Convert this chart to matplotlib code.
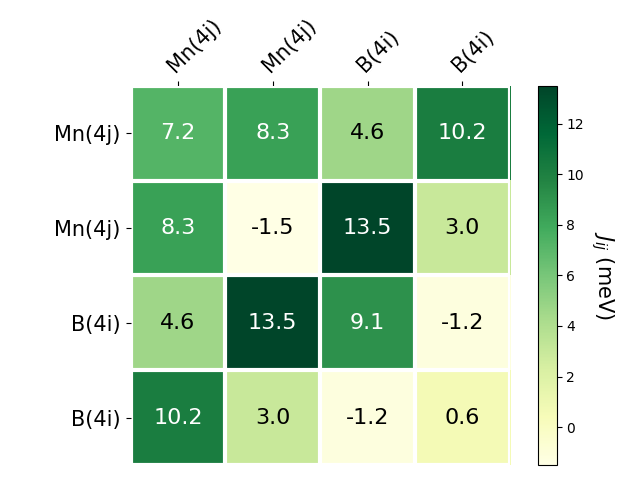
import numpy as np
import matplotlib.pyplot as plt

row_labels = ["Mn(4j)", "Mn(4j)", "B(4i)", "B(4i)"]
col_labels = ["Mn(4j)", "Mn(4j)", "B(4i)", "B(4i)"]
J = np.array([[7.2, 8.3, 4.6, 10.2],
              [8.3, -1.5, 13.5, 3.0],
              [4.6, 13.5, 9.1, -1.2],
              [10.2, 3.0, -1.2, 0.6]])

fig, ax = plt.subplots(figsize=(6.4, 4.8))
im = ax.imshow(J, cmap="YlGn")

cbar = fig.colorbar(im, ax=ax)
cbar.ax.set_ylabel("$J_{ij}$ (meV)", rotation=-90, va="bottom", fontsize=15)

ax.set_xticks(np.arange(J.shape[1]), labels=col_labels, fontsize=15)
ax.set_yticks(np.arange(J.shape[0]), labels=row_labels, fontsize=15)
ax.tick_params(top=True, bottom=False, labeltop=True, labelbottom=False)
plt.setp(ax.get_xticklabels(), rotation=45, ha="left", rotation_mode="anchor")

for s in ax.spines.values():
    s.set_visible(False)
ax.set_xticks(np.arange(J.shape[1] + 1) - .5, minor=True)
ax.set_yticks(np.arange(J.shape[0] + 1) - .5, minor=True)
ax.grid(which="minor", color="w", linestyle="-", linewidth=3)
ax.tick_params(which="minor", bottom=False, left=False, top=False)

threshold = im.norm(J.max()) / 2.
for i in range(J.shape[0]):
    for j in range(J.shape[1]):
        c = "white" if im.norm(J[i, j]) > threshold else "black"
        ax.text(j, i, f"{J[i, j]:.1f}", ha="center", va="center", color=c, fontsize=16)

fig.tight_layout()
fig.savefig("out.png", dpi=100)
